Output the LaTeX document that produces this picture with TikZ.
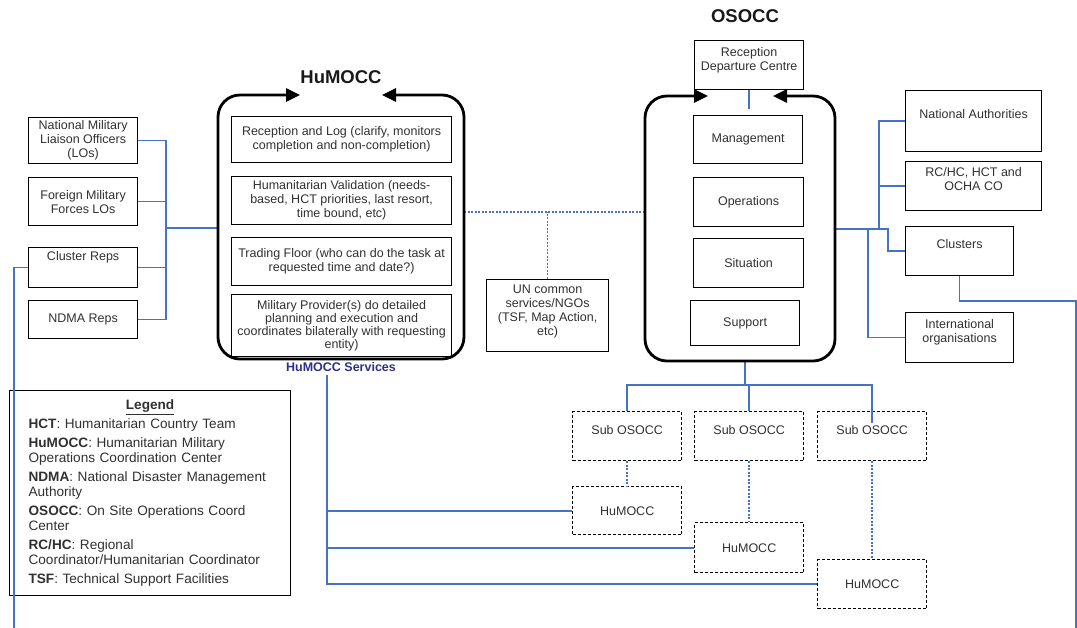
\documentclass[tikz,border=0pt]{standalone}
\usepackage{fontspec}
\setmainfont{Liberation Sans}
\usetikzlibrary{arrows.meta}

\definecolor{txtgray}{HTML}{303030}
\definecolor{linkblue}{HTML}{4672C4}
\definecolor{navy}{HTML}{2E3085}

\tikzset{
    box/.style={draw, line width=1.2pt, anchor=north west, align=center, text=txtgray,
        inner sep=2pt, font=\fontsize{12.5}{14}\selectfont},
    dbox/.style={box, line width=1.4pt, dash pattern=on 3pt off 2pt},
    link/.style={draw=linkblue, line width=1.6pt},
    dlink/.style={draw=linkblue, line width=1.6pt, dash pattern=on 2pt off 1.5pt},
    frame/.style={line width=2.8pt, rounded corners=22pt,
        {Triangle[length=14pt,width=13pt]}-{Triangle[length=14pt,width=13pt]}},
    title/.style={font=\fontsize{18.5}{20}\selectfont\bfseries, text=black!90},
}

\begin{document}
\begin{tikzpicture}[x=1pt, y=-1pt]
    \useasboundingbox (0,0) rectangle (1077,628);

    % 标题
    \node[title] (humtitle) at (341,77) {HuMOCC};
    \node[title] (osotitle) at (745,16) {OSOCC};

    % 左侧联络框
    \node[box, minimum width=109pt, minimum height=46pt] (nmlo) at (28,117) {National Military\\Liaison Officers\\(LOs)};
    \node[box, minimum width=109pt, minimum height=48pt] (fmlo) at (28,177) {Foreign Military\\Forces LOs};
    \node[box, minimum width=109pt, inner ysep=4pt, text height=8.5pt, text depth=23.5pt] (crep) at (28,247) {Cluster Reps};
    \node[box, minimum width=109pt, minimum height=38pt] (ndma) at (28,300) {NDMA Reps};

    % HuMOCC 内部
    \coordinate (humNW) at (218,95);
    \coordinate (humSE) at (464,359);
    \node[box, minimum width=220pt, minimum height=46pt] (rlog) at (231,116) {Reception and Log (clarify, monitors\\completion and non-completion)};
    \node[box, minimum width=220pt, minimum height=48pt] (hval) at (231,176) {Humanitarian Validation (needs-\\based, HCT priorities, last resort,\\time bound, etc)};
    \node[box, minimum width=220pt, minimum height=48pt] (trad) at (231,237) {Trading Floor (who can do the task at\\requested time and date?)};
    \node[box, minimum width=220pt, minimum height=62pt, font=\fontsize{12.5}{12.8}\selectfont] (milp) at (231,294) {Military Provider(s) do detailed\\planning and execution and\\coordinates bilaterally with requesting\\entity)};
    \node[font=\fontsize{12.5}{14}\selectfont\bfseries, text=navy] (svc) at (341,367) {HuMOCC Services};

    % 中间
    \node[box, minimum width=122pt, inner ysep=4pt, text height=51.5pt, text depth=12.5pt] (un) at (486,279) {UN common\\services/NGOs\\(TSF, Map Action,\\etc)};

    % OSOCC 内部
    \coordinate (osoNW) at (645,96);
    \coordinate (osoSE) at (835,361);
    \node[box, minimum width=109pt, inner ysep=5pt, text height=24.5pt, text depth=14.5pt] (rdc) at (694,40) {Reception\\Departure Centre};
    \node[box, minimum width=109pt, minimum height=48pt] (mgmt) at (693,115) {Management};
    \node[box, minimum width=110pt, minimum height=49pt] (oper) at (693,177) {Operations};
    \node[box, minimum width=110pt, minimum height=49pt] (situ) at (693,238) {Situation};
    \node[box, minimum width=109pt, minimum height=45pt] (supp) at (690,300) {Support};

    % 右侧
    \node[box, minimum width=136pt, inner ysep=4pt, text height=23.5pt, text depth=29.5pt] (natauth) at (905,90) {National Authorities};
    \node[box, minimum width=136pt, inner ysep=4pt, text height=24.5pt, text depth=16.5pt] (rchc) at (905,161) {RC/HC, HCT and\\OCHA CO};
    \node[box, minimum width=108pt, inner ysep=4pt, text height=17.5pt, text depth=23.5pt] (clus) at (905,226) {Clusters};
    \node[box, minimum width=108pt, inner ysep=4pt, text height=25.5pt, text depth=16.5pt] (intl) at (905,312) {International\\organisations};

    % 下方 Sub OSOCC / HuMOCC
    \foreach \i/\x in {1/572, 2/694, 3/817}
        \node[dbox, minimum width=109pt, inner ysep=4pt, text height=18.5pt, text depth=22.5pt] (sub\i) at (\x,411) {Sub OSOCC};
    \node[dbox, minimum width=109pt, minimum height=48pt] (hmoc1) at (572,486) {HuMOCC};
    \node[dbox, minimum width=109pt, minimum height=50pt] (hmoc2) at (694,522) {HuMOCC};
    \node[dbox, minimum width=109pt, minimum height=49pt] (hmoc3) at (817,559) {HuMOCC};

    % 图例
    \node[draw, line width=1.2pt, anchor=north west, text width=243pt, inner xsep=19pt, inner ysep=9pt,
        align=left, text=txtgray, font=\fontsize{13.6}{15}\selectfont] (legend) at (9,390) {%
        \setlength{\parindent}{0pt}%
        {\centering\textbf{\underline{Legend}}\par}\vspace{4pt}
        \textbf{HCT}: Humanitarian Country Team\\[4pt]
        \textbf{HuMOCC}: Humanitarian Military\\
        Operations Coordination Center\\[4pt]
        \textbf{NDMA}: National Disaster Management\\
        Authority\\[4pt]
        \textbf{OSOCC}: On Site Operations Coord\\
        Center\\[4pt]
        \textbf{RC/HC}: Regional\\
        Coordinator/Humanitarian Coordinator\\[4pt]
        \textbf{TSF}: Technical Support Facilities};

    % 连接点
    \coordinate (lbus) at (166,228);
    \coordinate (humW) at (218,228);
    \coordinate (humE) at (464,212);
    \coordinate (osoW) at (645,212);
    \coordinate (osoE) at (835,229);
    \coordinate (osoS) at (745,361);
    \coordinate (tee) at (745,385);
    \coordinate (lbot) at (14,628);
    \coordinate (rbot) at (1076,628);
    \coordinate (svcx) at ([xshift=-14pt]svc.south);

    % 左侧连线
    \draw[link] (nmlo.east) -| (lbus) -- (humW);
    \draw[link] (fmlo.east) -- (fmlo.east -| lbus);
    \draw[link] (crep.east) -- (crep.east -| lbus);
    \draw[link] (ndma.east) -| (lbus);
    \draw[link] (crep.west) -| (lbot);

    % 右侧连线
    \draw[link] (osoE) -- ++(53,0) |- (clus.west);
    \draw[link] ([xshift=44pt]osoE) |- (natauth.west);
    \draw[link] (rchc.west) -- ++(-26,0);
    \draw[link] ([xshift=33pt]osoE) |- (intl.west);
    \draw[link] (clus.south) -- ++(0,25) -| (rbot);

    % 虚线
    \draw[dlink] (humE) -- (osoW);
    \draw[dlink] (un.north) -- (un.north |- humE);

    % OSOCC 下方
    \draw[link] (rdc.south) -- ++(0,19);
    \draw[link] (osoS) -- (tee);
    \draw[link] (sub1.north) |- (tee);
    \draw[link] ([yshift=-12pt]sub3.north) |- (tee);
    \draw[link] (sub2.north) -- (sub2.north |- tee);
    \foreach \i in {1,2,3}
        \draw[dlink] (sub\i.south) -- (hmoc\i.north);

    % HuMOCC Services
    \draw[link] (svcx) |- (hmoc3.west);
    \draw[link] (svcx |- hmoc1.west) -- (hmoc1.west);
    \draw[link] (svcx |- hmoc2.west) -- (hmoc2.west);

    % 外框（圆角＋箭头）
    \draw[frame] (300,95) -- (humNW) -- (humNW |- humSE) -- (humSE) -- (humSE |- humNW) -- (382,95);
    \draw[frame] (708,96) -- (osoNW) -- (osoNW |- osoSE) -- (osoSE) -- (osoSE |- osoNW) -- (773,96);
\end{tikzpicture}
\end{document}
